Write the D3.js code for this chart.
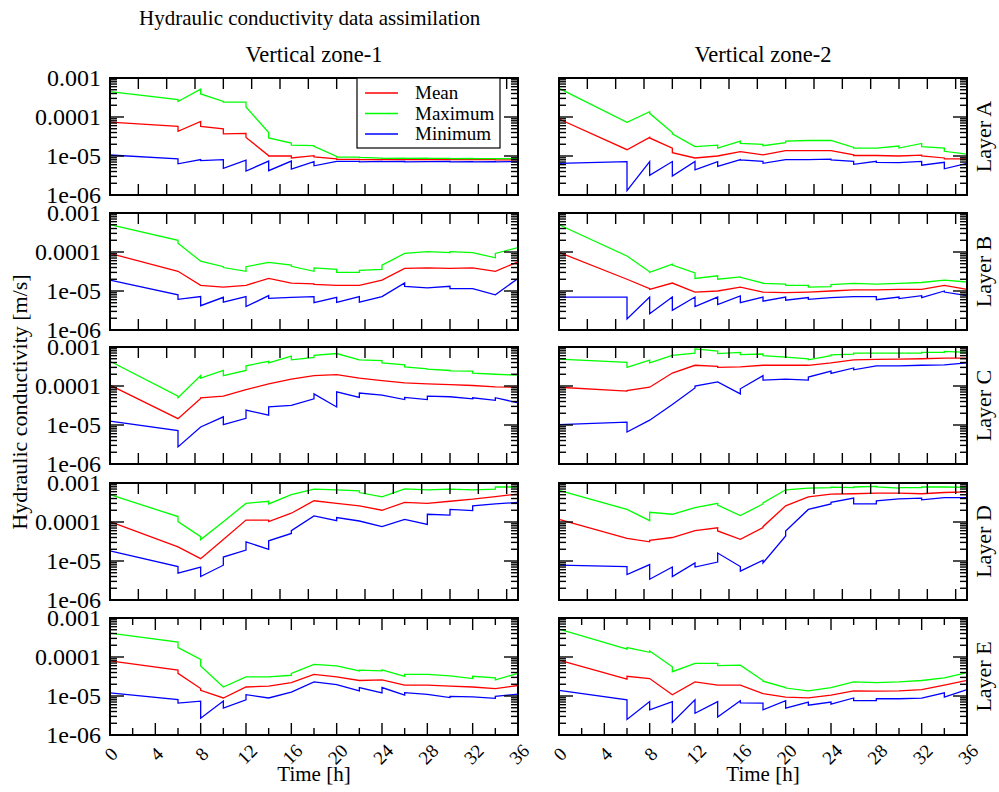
<!DOCTYPE html>
<html>
<head>
<meta charset="utf-8">
<script src="https://cdn.jsdelivr.net/npm/d3@7/dist/d3.min.js"></script>
<style>
  html, body { margin: 0; padding: 0; background: #fff; }
  svg { display: block; }
</style>
</head>
<body>
<svg id="chart" width="999" height="792" font-family="'Liberation Serif', 'DejaVu Serif', serif"></svg>
<script>
// Assimilation times: every update step appears twice (forecast, then analysis)
const times = [0, 6, 6, 8, 8, 10, 10, 12, 12, 14, 14, 16, 16, 18, 18, 20, 20,
               22, 22, 24, 24, 26, 26, 28, 28, 30, 30, 32, 32, 34, 34, 36];

const layers = ["A", "B", "C", "D", "E"];
const zones = ["Vertical zone-1", "Vertical zone-2"];
const seriesNames = ["Mean", "Maximum", "Minimum"];
const seriesColors = ["#ff0000", "#00ff00", "#0000ff"];
const yTickLabels = ["1e-06", "1e-05", "0.0001", "0.001"];
const yTickValues = [1e-6, 1e-5, 1e-4, 1e-3];
const xTickLabels = [0, 4, 8, 12, 16, 20, 24, 28, 32, 36];

// Layer A
const meanA1 = [7.4e-5, 5.75e-5, 4.3e-5, 7.7e-5, 5.75e-5, 5.0e-5, 3.7e-5, 3.8e-5, 3.0e-5, 1.02e-5, 1.0e-5, 1.0e-5, 8.9e-6, 1.02e-5, 9.5e-6, 8.4e-6, 8.2e-6, 8.2e-6, 8.1e-6, 8.1e-6, 8.1e-6, 8.1e-6, 8.1e-6, 8.1e-6, 8.1e-6, 8.1e-6, 8.1e-6, 8.1e-6, 8.1e-6, 8.1e-6, 8.0e-6, 8.0e-6];
const maxA1  = [4.5e-4, 2.8e-4, 2.5e-4, 5.2e-4, 3.9e-4, 2.5e-4, 2.4e-4, 2.4e-4, 1.8e-4, 4.0e-5, 2.9e-5, 2.15e-5, 1.9e-5, 1.84e-5, 1.78e-5, 9.8e-6, 9.4e-6, 9.4e-6, 9.2e-6, 8.8e-6, 8.7e-6, 8.8e-6, 8.7e-6, 8.8e-6, 8.7e-6, 8.7e-6, 8.6e-6, 8.7e-6, 8.6e-6, 8.6e-6, 8.6e-6, 8.6e-6];
const minA1  = [1.06e-5, 8.4e-6, 6.3e-6, 8.1e-6, 7.6e-6, 8.1e-6, 4.8e-6, 7.8e-6, 4.1e-6, 7.4e-6, 4.2e-6, 7.4e-6, 4.6e-6, 7.2e-6, 5.6e-6, 7.3e-6, 7.3e-6, 7.3e-6, 7.1e-6, 7.3e-6, 7.2e-6, 7.3e-6, 7.1e-6, 7.2e-6, 7.2e-6, 7.3e-6, 7.1e-6, 7.2e-6, 7.1e-6, 7.2e-6, 7.1e-6, 7.2e-6];
const meanA2 = [8.9e-5, 1.45e-5, 1.45e-5, 3.0e-5, 2.9e-5, 1.58e-5, 1.22e-5, 8.9e-6, 8.9e-6, 1.0e-5, 1.0e-5, 1.29e-5, 1.29e-5, 1.07e-5, 1.07e-5, 1.38e-5, 1.38e-5, 1.38e-5, 1.38e-5, 1.38e-5, 1.38e-5, 1.07e-5, 1.03e-5, 1.03e-5, 1.03e-5, 1.0e-5, 1.0e-5, 1.05e-5, 1.0e-5, 8.9e-6, 8.4e-6, 8.4e-6];
const maxA2  = [5.4e-4, 7.3e-5, 7.3e-5, 1.37e-4, 1.24e-4, 4.0e-5, 3.7e-5, 1.74e-5, 1.74e-5, 1.9e-5, 1.6e-5, 2.4e-5, 2.1e-5, 2.0e-5, 1.84e-5, 2.2e-5, 2.4e-5, 2.5e-5, 2.5e-5, 2.5e-5, 2.5e-5, 1.66e-5, 1.6e-5, 1.6e-5, 1.6e-5, 1.8e-5, 1.6e-5, 2.1e-5, 1.74e-5, 1.6e-5, 1.32e-5, 1.12e-5];
const minA2  = [6.5e-6, 7.2e-6, 1.29e-6, 7.2e-6, 3.2e-6, 7.2e-6, 3.05e-6, 7.2e-6, 4.4e-6, 7.2e-6, 5.4e-6, 8.1e-6, 8.0e-6, 7.3e-6, 6.5e-6, 8.1e-6, 8.1e-6, 8.1e-6, 8.1e-6, 8.3e-6, 8.0e-6, 7.3e-6, 6.1e-6, 7.3e-6, 6.9e-6, 6.8e-6, 6.8e-6, 7.3e-6, 5.8e-6, 6.9e-6, 4.7e-6, 6.5e-6];

// Layer B
const meanB1 = [9.2e-5, 3.2e-5, 3.2e-5, 1.4e-5, 1.4e-5, 1.26e-5, 1.26e-5, 1.4e-5, 1.4e-5, 2.1e-5, 2.1e-5, 1.6e-5, 1.6e-5, 1.53e-5, 1.48e-5, 1.4e-5, 1.4e-5, 1.4e-5, 1.4e-5, 1.9e-5, 1.9e-5, 3.8e-5, 3.8e-5, 3.9e-5, 3.9e-5, 3.8e-5, 3.8e-5, 3.9e-5, 3.9e-5, 3.2e-5, 3.2e-5, 5.6e-5];
const maxB1  = [5.0e-4, 2.0e-4, 1.68e-4, 5.8e-5, 5.8e-5, 4.2e-5, 4.0e-5, 3.2e-5, 4.2e-5, 5.4e-5, 5.4e-5, 4.6e-5, 4.3e-5, 3.2e-5, 3.9e-5, 3.6e-5, 3.0e-5, 3.0e-5, 3.4e-5, 3.6e-5, 4.6e-5, 9.2e-5, 9.2e-5, 1.02e-4, 1.02e-4, 9.6e-5, 1.02e-4, 9.6e-5, 9.6e-5, 7.1e-5, 9.2e-5, 1.3e-4];
const minB1  = [1.9e-5, 8.0e-6, 6.1e-6, 7.2e-6, 4.2e-6, 6.9e-6, 5.2e-6, 7.2e-6, 4.0e-6, 7.6e-6, 6.5e-6, 6.9e-6, 6.9e-6, 7.2e-6, 5.0e-6, 6.9e-6, 5.1e-6, 7.2e-6, 5.2e-6, 7.2e-6, 7.2e-6, 1.62e-5, 1.32e-5, 1.2e-5, 1.2e-5, 1.32e-5, 1.15e-5, 1.15e-5, 1.15e-5, 8.0e-6, 8.0e-6, 2.1e-5];
const meanB2 = [9.8e-5, 2.0e-5, 2.0e-5, 1.15e-5, 1.1e-5, 1.6e-5, 1.6e-5, 9.4e-6, 9.4e-6, 1.0e-5, 1.0e-5, 1.26e-5, 1.26e-5, 9.4e-6, 9.4e-6, 9.1e-6, 9.1e-6, 9.4e-6, 9.4e-6, 1.0e-5, 1.0e-5, 1.07e-5, 1.07e-5, 1.07e-5, 1.07e-5, 1.1e-5, 1.1e-5, 1.1e-5, 1.1e-5, 1.4e-5, 1.4e-5, 1.1e-5];
const maxB2  = [5.0e-4, 7.9e-5, 7.9e-5, 3.1e-5, 3.0e-5, 4.9e-5, 4.6e-5, 2.9e-5, 2.1e-5, 2.45e-5, 2.0e-5, 2.3e-5, 2.25e-5, 1.6e-5, 1.56e-5, 1.5e-5, 1.4e-5, 1.4e-5, 1.26e-5, 1.3e-5, 1.45e-5, 1.56e-5, 1.56e-5, 1.5e-5, 1.5e-5, 1.56e-5, 1.56e-5, 1.65e-5, 1.65e-5, 1.9e-5, 1.9e-5, 1.7e-5];
const minB2  = [7.0e-6, 7.0e-6, 1.92e-6, 7.0e-6, 2.6e-6, 7.0e-6, 3.2e-6, 7.0e-6, 4.0e-6, 7.0e-6, 4.5e-6, 7.5e-6, 5.0e-6, 7.0e-6, 5.5e-6, 7.0e-6, 5.8e-6, 6.8e-6, 6.1e-6, 6.8e-6, 6.8e-6, 7.2e-6, 7.2e-6, 7.2e-6, 6.0e-6, 7.0e-6, 6.4e-6, 7.6e-6, 6.8e-6, 1.0e-5, 9.4e-6, 7.6e-6];

// Layer C
const meanC1 = [1.05e-4, 1.45e-5, 1.45e-5, 4.8e-5, 5.0e-5, 5.5e-5, 5.5e-5, 8.1e-5, 8.1e-5, 1.13e-4, 1.13e-4, 1.5e-4, 1.5e-4, 1.85e-4, 1.85e-4, 1.95e-4, 1.95e-4, 1.6e-4, 1.6e-4, 1.38e-4, 1.38e-4, 1.2e-4, 1.2e-4, 1.13e-4, 1.13e-4, 1.08e-4, 1.08e-4, 1.03e-4, 1.03e-4, 9.5e-5, 9.5e-5, 9.3e-5];
const maxC1  = [4.3e-4, 5.5e-5, 5.0e-5, 1.85e-4, 1.6e-4, 2.5e-4, 1.85e-4, 2.5e-4, 3.3e-4, 4.3e-4, 3.9e-4, 5.8e-4, 4.7e-4, 5.4e-4, 6.1e-4, 6.8e-4, 6.8e-4, 4.7e-4, 4.7e-4, 4.5e-4, 3.9e-4, 3.5e-4, 3.1e-4, 2.75e-4, 2.7e-4, 2.5e-4, 2.45e-4, 2.4e-4, 2.15e-4, 2.0e-4, 2.0e-4, 1.9e-4];
const minC1  = [1.26e-5, 7.2e-6, 2.75e-6, 8.9e-6, 8.9e-6, 1.62e-5, 1.02e-5, 1.48e-5, 2.4e-5, 1.78e-5, 2.9e-5, 3.2e-5, 3.2e-5, 4.7e-5, 6.3e-5, 2.9e-5, 7.1e-5, 5.1e-5, 6.6e-5, 5.8e-5, 5.8e-5, 4.5e-5, 5.1e-5, 4.5e-5, 5.5e-5, 5.3e-5, 5.3e-5, 4.7e-5, 5.0e-5, 4.3e-5, 5.0e-5, 3.7e-5];
const meanC2 = [9.3e-5, 7.4e-5, 7.6e-5, 9.3e-5, 9.3e-5, 2.15e-4, 2.15e-4, 3.4e-4, 3.4e-4, 3.2e-4, 3.0e-4, 3.1e-4, 3.1e-4, 3.4e-4, 3.4e-4, 3.4e-4, 3.4e-4, 3.4e-4, 3.4e-4, 3.9e-4, 3.9e-4, 4.7e-4, 4.7e-4, 4.8e-4, 4.8e-4, 4.9e-4, 4.9e-4, 5.0e-4, 5.0e-4, 5.2e-4, 5.2e-4, 5.2e-4];
const maxC2  = [4.9e-4, 4.05e-4, 3.0e-4, 4.6e-4, 3.9e-4, 6.1e-4, 6.1e-4, 7.0e-4, 8.9e-4, 7.8e-4, 6.8e-4, 7.3e-4, 6.4e-4, 6.6e-4, 6.0e-4, 5.5e-4, 5.5e-4, 5.0e-4, 4.7e-4, 6.0e-4, 6.3e-4, 6.6e-4, 7.0e-4, 7.0e-4, 7.0e-4, 7.0e-4, 7.0e-4, 7.0e-4, 7.3e-4, 7.3e-4, 7.7e-4, 7.3e-4];
const minC2  = [1.02e-5, 1.18e-5, 6.6e-6, 1.33e-5, 1.33e-5, 3.35e-5, 3.35e-5, 8.9e-5, 1.0e-4, 1.27e-4, 1.27e-4, 6.3e-5, 8.5e-5, 1.85e-4, 1.41e-4, 1.5e-4, 1.5e-4, 1.41e-4, 1.7e-4, 2.4e-4, 2.1e-4, 2.9e-4, 2.6e-4, 3.3e-4, 3.3e-4, 3.3e-4, 3.3e-4, 3.4e-4, 3.4e-4, 3.5e-4, 3.5e-4, 3.9e-4];

// Layer D
const meanD1 = [1.02e-4, 2.3e-5, 2.3e-5, 1.15e-5, 1.15e-5, 3.55e-5, 3.55e-5, 1.12e-4, 1.12e-4, 1.12e-4, 1.02e-4, 1.68e-4, 1.68e-4, 3.5e-4, 3.5e-4, 3.0e-4, 3.0e-4, 2.6e-4, 2.6e-4, 2.0e-4, 2.0e-4, 3.2e-4, 3.2e-4, 3.0e-4, 3.0e-4, 3.4e-4, 3.4e-4, 3.85e-4, 3.85e-4, 4.5e-4, 4.5e-4, 5.2e-4];
const maxD1  = [5.0e-4, 1.38e-4, 1.02e-4, 4.2e-5, 3.55e-5, 1.02e-4, 1.02e-4, 3.0e-4, 3.0e-4, 3.4e-4, 2.9e-4, 5.0e-4, 5.0e-4, 7.0e-4, 7.0e-4, 6.7e-4, 6.7e-4, 6.3e-4, 5.7e-4, 4.4e-4, 4.4e-4, 7.1e-4, 7.1e-4, 6.7e-4, 6.7e-4, 7.0e-4, 7.0e-4, 6.7e-4, 6.7e-4, 7.0e-4, 7.9e-4, 7.9e-4];
const minD1  = [1.82e-5, 7.2e-6, 4.9e-6, 7.0e-6, 4.0e-6, 7.8e-6, 1.26e-5, 1.9e-5, 3.1e-5, 2.0e-5, 3.3e-5, 5.1e-5, 6.0e-5, 1.43e-4, 1.43e-4, 1.08e-4, 1.3e-4, 1.06e-4, 1.06e-4, 7.6e-5, 7.6e-5, 1.17e-4, 1.17e-4, 8.7e-5, 1.58e-4, 1.5e-4, 2.1e-4, 1.96e-4, 2.6e-4, 2.9e-4, 2.9e-4, 3.2e-4];
const meanD2 = [1.17e-4, 3.8e-5, 3.8e-5, 3.1e-5, 3.4e-5, 4.0e-5, 4.0e-5, 6.0e-5, 6.0e-5, 7.1e-5, 5.9e-5, 3.6e-5, 3.6e-5, 7.2e-5, 7.6e-5, 2.6e-4, 2.6e-4, 4.4e-4, 4.4e-4, 5.2e-4, 5.2e-4, 5.3e-4, 5.3e-4, 5.5e-4, 5.5e-4, 5.5e-4, 5.5e-4, 5.3e-4, 5.3e-4, 5.7e-4, 5.7e-4, 5.9e-4];
const maxD2  = [6.5e-4, 2.1e-4, 2.1e-4, 1.08e-4, 1.78e-4, 1.58e-4, 1.58e-4, 2.35e-4, 2.35e-4, 3.0e-4, 2.7e-4, 1.46e-4, 1.46e-4, 2.9e-4, 3.1e-4, 6.7e-4, 6.7e-4, 7.4e-4, 7.4e-4, 7.6e-4, 7.8e-4, 7.6e-4, 7.9e-4, 8.2e-4, 8.0e-4, 7.4e-4, 7.6e-4, 7.6e-4, 7.9e-4, 7.9e-4, 7.9e-4, 7.7e-4];
const minD2  = [7.8e-6, 7.2e-6, 4.5e-6, 8.1e-6, 3.4e-6, 7.0e-6, 4.0e-6, 8.9e-6, 7.0e-6, 9.4e-6, 1.6e-5, 7.2e-6, 5.5e-6, 1.05e-5, 8.9e-6, 4.4e-5, 5.9e-5, 2.1e-4, 2.1e-4, 2.9e-4, 3.2e-4, 4.1e-4, 2.9e-4, 2.9e-4, 3.5e-4, 3.9e-4, 3.9e-4, 4.1e-4, 3.7e-4, 4.2e-4, 4.2e-4, 4.2e-4];

// Layer E
const meanE1 = [8.0e-5, 4.6e-5, 3.8e-5, 1.55e-5, 1.4e-5, 8.9e-6, 8.9e-6, 1.7e-5, 1.7e-5, 1.8e-5, 1.8e-5, 2.2e-5, 2.2e-5, 3.6e-5, 3.6e-5, 3.1e-5, 3.1e-5, 2.5e-5, 2.5e-5, 2.6e-5, 2.6e-5, 1.9e-5, 1.9e-5, 1.9e-5, 1.9e-5, 1.8e-5, 1.8e-5, 1.7e-5, 1.7e-5, 1.55e-5, 1.55e-5, 1.86e-5];
const maxE1  = [4.1e-4, 2.4e-4, 1.74e-4, 8.7e-5, 5.9e-5, 1.7e-5, 1.7e-5, 3.1e-5, 3.1e-5, 3.1e-5, 3.1e-5, 3.4e-5, 3.8e-5, 6.5e-5, 6.5e-5, 5.9e-5, 5.9e-5, 4.4e-5, 4.6e-5, 4.4e-5, 4.7e-5, 3.2e-5, 3.6e-5, 3.6e-5, 3.6e-5, 3.3e-5, 3.3e-5, 2.8e-5, 3.2e-5, 2.9e-5, 2.6e-5, 3.8e-5];
const minE1  = [1.2e-5, 8.1e-6, 6.6e-6, 7.4e-6, 2.7e-6, 7.4e-6, 4.9e-6, 8.0e-6, 1.08e-5, 8.9e-6, 8.9e-6, 1.26e-5, 1.26e-5, 2.3e-5, 2.3e-5, 1.95e-5, 1.95e-5, 1.35e-5, 1.65e-5, 1.2e-5, 1.65e-5, 1.05e-5, 1.22e-5, 1.1e-5, 1.1e-5, 9.1e-6, 9.8e-6, 9.5e-6, 9.5e-6, 8.7e-6, 9.8e-6, 1.12e-5];
const meanE2 = [8.3e-5, 2.7e-5, 3.2e-5, 2.8e-5, 2.8e-5, 1.08e-5, 1.08e-5, 2.3e-5, 2.3e-5, 1.9e-5, 1.9e-5, 1.9e-5, 1.9e-5, 1.15e-5, 1.15e-5, 9.4e-6, 9.4e-6, 9.0e-6, 9.0e-6, 1.05e-5, 1.05e-5, 1.35e-5, 1.35e-5, 1.33e-5, 1.33e-5, 1.35e-5, 1.35e-5, 1.45e-5, 1.45e-5, 1.9e-5, 1.9e-5, 2.5e-5];
const maxE2  = [5.2e-4, 1.6e-4, 1.74e-4, 1.32e-4, 1.43e-4, 5.6e-5, 4.2e-5, 6.9e-5, 6.9e-5, 6.9e-5, 6.0e-5, 6.2e-5, 6.2e-5, 2.5e-5, 2.4e-5, 1.65e-5, 1.6e-5, 1.35e-5, 1.35e-5, 1.65e-5, 1.65e-5, 2.3e-5, 2.3e-5, 2.2e-5, 2.2e-5, 2.3e-5, 2.3e-5, 2.5e-5, 2.5e-5, 2.9e-5, 2.9e-5, 4.0e-5];
const minE2  = [1.4e-5, 8.0e-6, 2.5e-6, 7.2e-6, 4.4e-6, 7.2e-6, 2.1e-6, 8.0e-6, 3.6e-6, 7.2e-6, 2.9e-6, 7.6e-6, 6.7e-6, 6.6e-6, 4.4e-6, 7.6e-6, 4.9e-6, 7.0e-6, 5.8e-6, 7.0e-6, 6.2e-6, 8.9e-6, 7.6e-6, 7.6e-6, 8.5e-6, 8.5e-6, 8.5e-6, 8.8e-6, 8.8e-6, 1.2e-5, 9.4e-6, 1.45e-5];

// Panel grid: [layer][zone] -> [mean, max, min]
const panels = [
  [[meanA1, maxA1, minA1], [meanA2, maxA2, minA2]],
  [[meanB1, maxB1, minB1], [meanB2, maxB2, minB2]],
  [[meanC1, maxC1, minC1], [meanC2, maxC2, minC2]],
  [[meanD1, maxD1, minD1], [meanD2, maxD2, minD2]],
  [[meanE1, maxE1, minE1], [meanE2, maxE2, minE2]]
];

const svg = d3.select("#chart");
const colLeft = [110, 559];
const rowTop = [78, 213, 347, 483, 618];
const pw = 408, ph = 117;

const x = d3.scaleLinear().domain([0, 36]).range([0, pw]);
const y = d3.scaleLog().domain([1e-6, 1e-3]).range([ph, 0]);

// minor log ticks (2..9 in each decade)
const yMinor = [];
for (let e = -6; e < -3; e++) for (let m = 2; m <= 9; m++) yMinor.push(m * Math.pow(10, e));

svg.append("text").attr("x", 139).attr("y", 25)
  .style("font-size", "21px").text("Hydraulic conductivity data assimilation");

zones.forEach((z, c) => {
  svg.append("text").attr("x", colLeft[c] + pw / 2).attr("y", 62)
    .attr("text-anchor", "middle").style("font-size", "22.5px").text(z);
  svg.append("text").attr("x", colLeft[c] + pw / 2).attr("y", 781)
    .attr("text-anchor", "middle").style("font-size", "21px").text("Time [h]");
});

svg.append("text")
  .attr("transform", "translate(27," + 402 + ") rotate(-90)")
  .attr("text-anchor", "middle").style("font-size", "22px")
  .text("Hydraulic conductivity [m/s]");

const line = d3.line().x(d => x(d[0])).y(d => y(d[1]));

layers.forEach((L, r) => {
  const bottomRow = r === layers.length - 1;
  for (let c = 0; c < 2; c++) {
    const g = svg.append("g").attr("transform", `translate(${colLeft[c]},${rowTop[r]})`);

    // data lines
    panels[r][c].forEach((vals, s) => {
      const pts = times.map((t, i) => [t, vals[i]]);
      g.append("path").attr("d", line(pts)).attr("fill", "none")
        .attr("stroke", seriesColors[s]).attr("stroke-width", 1.3)
        .attr("stroke-linejoin", "miter");
    });

    // y ticks, both sides, inward
    const tk = g.append("g").attr("stroke", "#000").attr("stroke-width", 1.4);
    yMinor.forEach(v => {
      tk.append("line").attr("x1", 0).attr("x2", 7).attr("y1", y(v)).attr("y2", y(v));
      tk.append("line").attr("x1", pw).attr("x2", pw - 7).attr("y1", y(v)).attr("y2", y(v));
    });
    yTickValues.forEach(v => {
      tk.append("line").attr("x1", 0).attr("x2", 14).attr("y1", y(v)).attr("y2", y(v));
      tk.append("line").attr("x1", pw).attr("x2", pw - 14).attr("y1", y(v)).attr("y2", y(v));
    });

    // x ticks, top and bottom, inward
    const xt = bottomRow ? d3.range(2, 36, 2) : d3.range(2.5, 36, 2.5);
    xt.forEach(t => {
      const len = bottomRow ? (t % 4 === 0 ? 12 : 7) : 11;
      tk.append("line").attr("x1", x(t)).attr("x2", x(t)).attr("y1", ph).attr("y2", ph - len);
      tk.append("line").attr("x1", x(t)).attr("x2", x(t)).attr("y1", 0).attr("y2", len);
    });

    // frame
    g.append("rect").attr("width", pw).attr("height", ph)
      .attr("fill", "none").attr("stroke", "#000").attr("stroke-width", 2);

    if (c === 0) {
      yTickValues.forEach((v, i) => {
        g.append("text").attr("x", -9).attr("y", y(v) + 8)
          .attr("text-anchor", "end").style("font-size", "24px").text(yTickLabels[i]);
      });
    }
    if (c === 1) {
      g.append("text")
        .attr("transform", `translate(${pw + 24},${ph / 2}) rotate(-90)`)
        .attr("text-anchor", "middle").style("font-size", "22px").text("Layer " + L);
    }
    if (bottomRow) {
      xTickLabels.forEach(t => {
        g.append("text")
          .attr("transform", `translate(${x(t) + 1},${ph + 19}) rotate(-45)`)
          .attr("text-anchor", "middle").attr("dy", "0.35em")
          .style("font-size", "19px").text(t);
      });
    }
  }
});

// legend in the first panel
const lg = svg.append("g").attr("transform", "translate(357,78)");
lg.append("rect").attr("width", 143).attr("height", 70)
  .attr("fill", "#fff").attr("stroke", "#000").attr("stroke-width", 1.2);
seriesNames.forEach((n, i) => {
  const yy = 15 + i * 20.5;
  lg.append("line").attr("x1", 8).attr("x2", 41).attr("y1", yy).attr("y2", yy)
    .attr("stroke", seriesColors[i]).attr("stroke-width", 1.3);
  lg.append("text").attr("x", 58).attr("y", yy + 6).style("font-size", "19px").text(n);
});
</script>
</body>
</html>
